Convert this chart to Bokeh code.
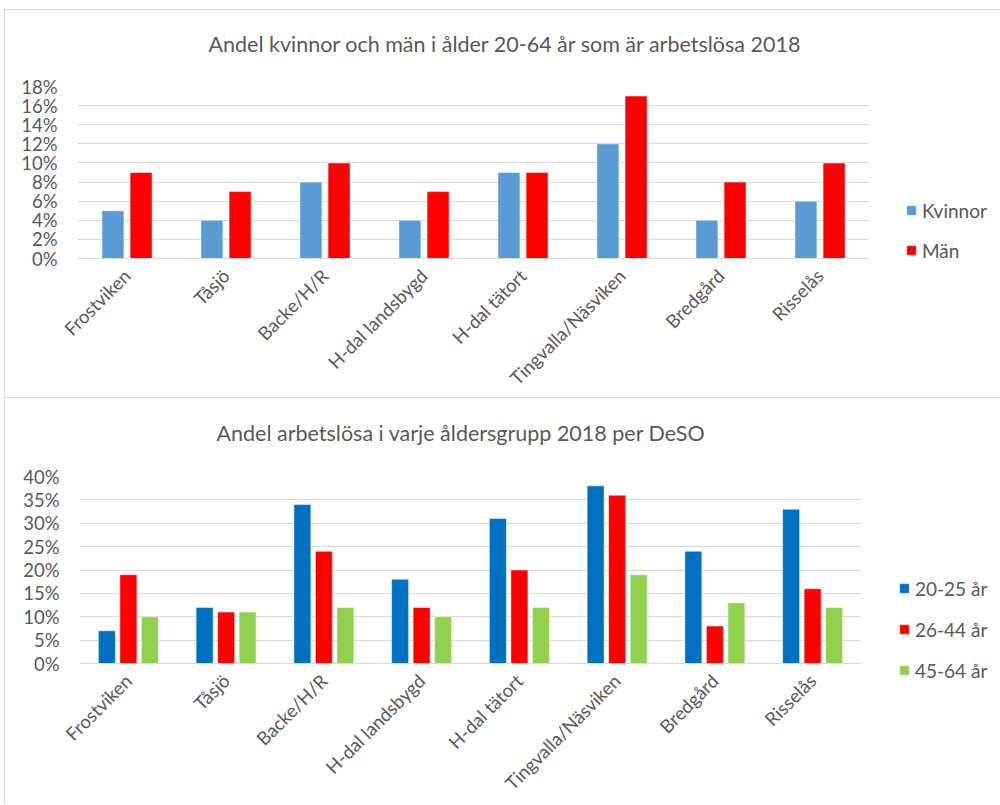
import math
from bokeh.plotting import figure
from bokeh.models import (Range1d, FixedTicker, PrintfTickFormatter,
                          Legend, LegendItem, ColumnDataSource)
from bokeh.layouts import column, row
from bokeh.transform import dodge
from bokeh.embed import file_html
from bokeh.resources import INLINE

# ---- data ----
areas = ["Frostviken", "Tåsjö", "Backe/H/R", "H-dal landsbygd", "H-dal tätort",
         "Tingvalla/Näsviken", "Bredgård", "Risselås"]

title_top = "Andel kvinnor och män i ålder 20-64 år som är arbetslösa 2018"
series_top = ["Kvinnor", "Män"]
kvinnor = [5, 4, 8, 4, 9, 12, 4, 6]
man = [9, 7, 10, 7, 9, 17, 8, 10]
ticks_top = [0, 2, 4, 6, 8, 10, 12, 14, 16, 18]

title_bottom = "Andel arbetslösa i varje åldersgrupp 2018 per DeSO"
series_bottom = ["20-25 år", "26-44 år", "45-64 år"]
age_20_25 = [7, 12, 34, 18, 31, 38, 24, 33]
age_26_44 = [19, 11, 24, 12, 20, 36, 8, 16]
age_45_64 = [10, 11, 12, 10, 12, 19, 13, 12]
ticks_bottom = [0, 5, 10, 15, 20, 25, 30, 35, 40]

FONT = "Lato"
TXT = "#595959"
GRID = "#D9D9D9"
BORDER = "1px solid #D9D9D9"

# category slot centres (one slot per area)
slot = [i + 0.5 for i in range(len(areas))]


def no_align(fig):
    try:
        fig.frame_align = False
    except Exception:
        pass


def main_fig(width, height, left, right, top, bottom, ymax, ticks, title,
             title_offset, title_pad, border_css, label_shift):
    p = figure(x_range=Range1d(0, len(areas)), y_range=Range1d(0, ymax),
               width=width, height=height, output_backend="svg", toolbar_location=None,
               min_border_left=left, min_border_right=right,
               min_border_top=top, min_border_bottom=bottom)
    no_align(p)
    p.styles = border_css
    p.outline_line_color = None
    p.background_fill_color = "white"
    p.border_fill_color = "white"

    p.title.text = title
    p.title.align = "left"
    p.title.offset = title_offset
    p.title.text_font = FONT
    p.title.text_font_size = "21.5px"
    p.title.text_font_style = "normal"
    p.title.text_color = TXT
    p.title.standoff = 0
    p.title.padding = (0, 0, 0, title_pad)

    p.xgrid.grid_line_color = None
    p.ygrid.grid_line_color = GRID
    p.ygrid.grid_line_width = 1.2

    p.yaxis.ticker = FixedTicker(ticks=ticks)
    p.yaxis.formatter = PrintfTickFormatter(format="%d%%")
    p.yaxis.axis_line_color = None
    p.yaxis.major_tick_line_color = None
    p.yaxis.major_tick_out = 0
    p.yaxis.minor_tick_line_color = None
    p.yaxis.major_label_standoff = 20
    p.yaxis.major_label_text_font = FONT
    p.yaxis.major_label_text_font_size = "18.5px"
    p.yaxis.major_label_text_color = TXT

    # category labels: rotated, ending at each slot centre
    pos = [s + label_shift for s in slot]
    ax = p.xaxis[0]
    ax.ticker = FixedTicker(ticks=pos)
    ax.major_label_overrides = {t: a for t, a in zip(pos, areas)}
    ax.axis_line_color = GRID
    ax.axis_line_width = 1.2
    ax.major_tick_line_color = None
    ax.minor_tick_line_color = None
    ax.major_tick_out = 0
    ax.major_label_orientation = math.pi / 4
    ax.major_label_standoff = 14
    ax.major_label_text_font = FONT
    ax.major_label_text_font_size = "18.5px"
    ax.major_label_text_color = TXT
    return p


def legend_fig(width, height, names, colors, fields, src, offsets, bar_w, loc, spacing,
               css):
    # the bars here lie outside the visible range; they only feed the legend
    q = figure(x_range=Range1d(100, 101), y_range=Range1d(100, 101), width=width,
               height=height, output_backend="svg", toolbar_location=None, min_border=0)
    no_align(q)
    q.styles = css
    q.axis.visible = False
    q.grid.visible = False
    q.outline_line_color = None
    q.border_fill_color = "white"
    q.background_fill_color = "white"
    items = []
    for name, field, color, off in zip(names, fields, colors, offsets):
        r = q.vbar(x=dodge("slot", off), top=field, width=bar_w, source=src,
                   fill_color=color, line_color="white", line_width=0.5)
        items.append(LegendItem(label=name, renderers=[r]))
    lg = Legend(items=items, location=loc, spacing=spacing)
    lg.border_line_color = None
    lg.background_fill_alpha = 0
    lg.padding = 0
    lg.margin = 0
    lg.glyph_width = 12
    lg.glyph_height = 12
    lg.label_height = 24
    lg.label_standoff = 5
    lg.label_text_font = FONT
    lg.label_text_font_size = "19px"
    lg.label_text_color = TXT
    q.add_layout(lg)
    return q


# ---- top chart ----
top_colors = ["#5B9BD5", "#FF0000"]
src_top = ColumnDataSource(dict(area=areas, slot=slot, kvinnor=kvinnor, man=man))
p1 = main_fig(876, 389, 72, 12, 76, 138, 18, ticks_top, title_top, 131, 30,
              {"border-left": BORDER, "border-top": BORDER, "border-bottom": BORDER,
               "box-sizing": "border-box"}, 0.0)
for field, off, color in zip(["kvinnor", "man"], [-0.142, 0.142], top_colors):
    p1.vbar(x=dodge("slot", off), top=field, width=0.222, source=src_top,
            fill_color=color, line_color="white", line_width=0.5)
l1 = legend_fig(120, 389, series_top, top_colors, ["kvinnor", "man"], src_top,
                [-0.142, 0.142], 0.222, (25, 137), 16,
                {"border-top": BORDER, "border-bottom": BORDER, "box-sizing": "border-box"})
chart1 = row(p1, l1, spacing=0, margin=(9, 0, 0, 4))

# ---- bottom chart ----
bot_colors = ["#0070C0", "#FF0000", "#92D050"]
src_bot = ColumnDataSource(dict(area=areas, slot=slot, a1=age_20_25, a2=age_26_44,
                                a3=age_45_64))
p2 = main_fig(868, 405, 74, 12, 77, 138, 40, ticks_bottom, title_bottom, 137, 31,
              {"border-left": BORDER, "box-sizing": "border-box"}, 0.0)
for field, off, color in zip(["a1", "a2", "a3"], [-0.22, 0.0, 0.22], bot_colors):
    p2.vbar(x=dodge("slot", off), top=field, width=0.174, source=src_bot,
            fill_color=color, line_color="white", line_width=0.5)
l2 = legend_fig(128, 405, series_bottom, bot_colors, ["a1", "a2", "a3"], src_bot,
                [-0.22, 0.0, 0.22], 0.174, (26, 122), 17, {})
chart2 = row(p2, l2, spacing=0, margin=(1, 0, 0, 4))

layout = column(chart1, chart2, spacing=0)
open("out.html", "w").write(file_html(layout, INLINE))
